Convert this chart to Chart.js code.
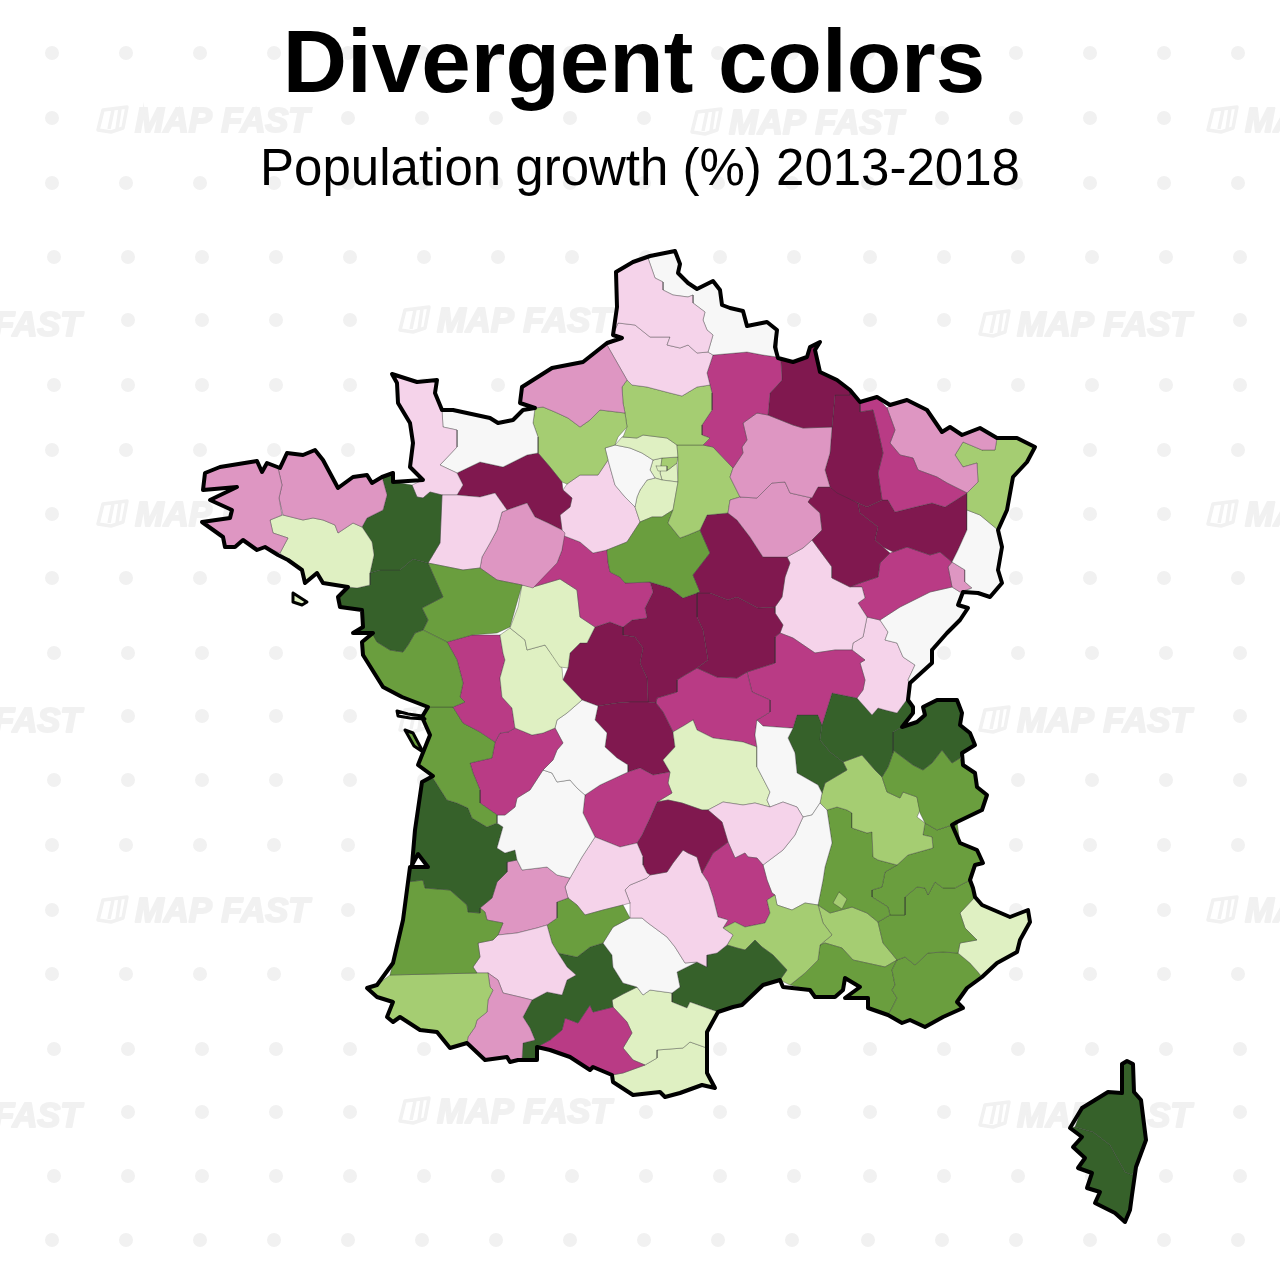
<!DOCTYPE html>
<html><head><meta charset="utf-8">
<style>html,body{margin:0;padding:0;background:#fff}canvas{display:block}</style>
<script src="https://cdn.jsdelivr.net/npm/chart.js@4"></script>
</head><body><canvas id="c" width="1280" height="1280"></canvas>
<script>
const titleText='Divergent colors';
const subtitleText='Population growth (%) 2013-2018';
const classColors=['#80184f','#b93b85','#de96c2','#f5d3ea','#f7f7f7','#dff0c2','#a5cd72','#6a9e3e','#36612a'];

const finistere=[[278,468],[267,463],[262,472],[257,461],[220,467],[205,473],[203,490],[237,487],[210,500],[232,510],[230,518],[202,522],[223,537],[225,547],[235,547],[243,540],[257,550],[265,547],[280,553],[288,538],[273,533],[270,520],[282,515],[279,498],[282,485]];
const cotesArmor=[[278,468],[287,453],[303,455],[315,450],[323,460],[338,488],[353,477],[367,475],[372,483],[382,477],[387,495],[383,510],[367,518],[362,527],[353,523],[338,533],[335,525],[323,520],[313,518],[303,520],[283,515],[279,498],[282,485]];
const morbihan=[[270,520],[283,515],[303,520],[313,518],[323,520],[335,525],[338,533],[353,523],[362,527],[372,542],[374,555],[370,573],[370,585],[357,588],[348,587],[323,583],[317,573],[305,583],[302,570],[288,560],[280,553],[288,538],[273,533]];
const illeVilaine=[[382,477],[393,473],[393,482],[412,485],[417,497],[423,498],[430,492],[442,495],[440,543],[428,563],[413,559],[400,570],[380,570],[370,573],[374,555],[372,542],[362,527],[367,518],[383,510],[387,495]];
const loireAtl=[[370,573],[380,570],[400,570],[413,559],[428,563],[440,590],[443,597],[422,608],[428,620],[423,630],[415,633],[408,645],[403,652],[390,650],[377,642],[373,635],[353,633],[363,627],[362,610],[340,607],[338,597],[348,587],[357,588],[370,585]];
const vendee=[[373,633],[377,642],[390,650],[403,652],[408,645],[415,633],[423,630],[447,642],[457,660],[463,683],[460,697],[465,702],[453,707],[440,707],[428,707],[402,697],[383,687],[363,655],[362,642]];
const maineLoire=[[428,563],[463,570],[480,568],[497,580],[522,585],[510,627],[497,633],[472,635],[447,642],[423,630],[428,620],[422,608],[443,597],[440,590]];
const mayenne=[[442,495],[457,495],[480,497],[495,493],[507,510],[502,512],[497,530],[490,543],[482,557],[480,568],[463,570],[428,563],[440,543]];
const sarthe=[[502,512],[507,510],[527,503],[535,517],[548,523],[562,530],[565,533],[562,550],[557,563],[533,588],[522,585],[497,580],[480,568],[482,557],[490,543],[497,530]];
const manche=[[392,374],[417,382],[437,380],[435,393],[442,410],[443,427],[457,430],[457,447],[440,465],[457,473],[463,485],[457,495],[442,495],[430,492],[423,498],[417,497],[412,485],[423,480],[420,477],[410,467],[413,443],[410,423],[398,403],[397,383]];
const calvados=[[442,410],[453,410],[490,418],[498,423],[513,420],[523,410],[535,408],[533,423],[538,437],[538,453],[527,455],[503,467],[480,462],[457,473],[440,465],[457,447],[457,430],[443,427]];
const orne=[[457,473],[480,462],[503,467],[527,455],[538,453],[550,467],[562,482],[563,490],[572,498],[570,507],[560,515],[562,530],[548,523],[535,517],[527,503],[507,510],[495,493],[480,497],[457,495],[463,485]];
const seineMar=[[520,403],[522,387],[552,368],[583,362],[607,345],[627,380],[622,387],[623,403],[625,413],[600,410],[590,420],[580,427],[568,418],[555,412],[543,407],[535,408]];
const eure=[[535,408],[543,407],[555,412],[568,418],[580,427],[590,420],[600,410],[625,413],[627,427],[618,437],[615,445],[605,448],[608,460],[598,475],[580,475],[567,484],[562,482],[550,467],[538,453],[538,437],[533,423]];
const pasCalais=[[616,272],[633,262],[648,258],[655,278],[663,282],[663,290],[673,295],[688,297],[693,295],[693,303],[705,312],[703,320],[707,330],[713,335],[708,352],[697,353],[688,345],[680,348],[667,345],[670,337],[650,337],[635,325],[618,323],[613,335],[617,307]];
const nord=[[648,258],[675,251],[680,264],[678,273],[688,283],[697,289],[713,281],[720,290],[722,305],[730,308],[743,311],[747,326],[767,322],[777,330],[777,357],[763,355],[747,352],[713,355],[708,352],[713,335],[707,330],[703,320],[705,312],[693,303],[693,295],[688,297],[673,295],[663,290],[663,282],[655,278]];
const somme=[[613,335],[618,323],[635,325],[650,337],[670,337],[667,345],[680,348],[688,345],[697,353],[708,352],[713,355],[707,373],[710,385],[697,387],[682,396],[670,393],[647,387],[632,385],[627,380],[607,345],[622,338]];
const oise=[[627,380],[632,385],[647,387],[670,393],[682,396],[697,387],[710,385],[712,393],[712,410],[702,425],[702,435],[710,438],[703,445],[677,445],[667,438],[643,435],[637,438],[623,437],[627,427],[625,413],[623,403],[622,387]];
const aisne=[[713,355],[747,352],[763,355],[777,357],[781,362],[782,380],[770,393],[768,415],[757,413],[743,423],[747,440],[742,447],[743,453],[733,468],[713,447],[703,445],[710,438],[702,435],[702,425],[712,410],[712,393],[710,385],[707,373]];
const ardennes=[[777,357],[793,362],[807,357],[810,347],[820,342],[815,350],[820,372],[837,380],[850,390],[850,395],[835,395],[832,427],[803,428],[793,425],[768,415],[770,393],[782,380],[781,362]];
const marne=[[757,413],[768,415],[793,425],[803,428],[832,427],[830,453],[825,470],[830,487],[818,487],[812,498],[790,493],[785,482],[772,483],[757,498],[740,497],[730,477],[733,468],[743,453],[742,447],[747,440],[743,423]];
const meuse=[[835,395],[850,395],[850,390],[860,402],[860,412],[873,410],[878,430],[883,453],[878,473],[882,500],[867,507],[858,503],[837,493],[830,487],[825,470],[830,453],[832,427]];
const meurtheMos=[[860,402],[877,397],[887,408],[895,430],[890,443],[900,455],[913,458],[918,470],[937,477],[947,483],[967,493],[945,507],[932,503],[915,507],[895,512],[888,500],[882,500],[878,473],[883,453],[878,430],[873,410],[860,412]];
const moselle=[[887,408],[890,405],[907,400],[927,410],[942,432],[950,427],[962,435],[980,428],[997,438],[995,450],[982,450],[963,442],[955,455],[963,467],[977,463],[978,482],[967,493],[947,483],[937,477],[918,470],[913,458],[900,455],[890,443],[895,430]];
const basRhin=[[982,450],[995,450],[997,438],[1017,438],[1035,447],[1027,462],[1013,477],[1007,510],[998,530],[980,515],[967,510],[967,493],[978,482],[977,463],[963,467],[955,455],[963,442]];
const hautRhin=[[980,515],[998,530],[1002,547],[998,570],[1002,583],[990,597],[978,593],[963,592],[972,588],[965,582],[965,570],[952,562],[958,550],[967,530],[967,510]];
const vosges=[[858,503],[867,507],[882,500],[888,500],[895,512],[915,507],[932,503],[945,507],[967,493],[967,510],[967,530],[958,550],[952,562],[940,552],[930,555],[907,547],[893,552],[883,547],[875,540],[878,527],[860,513]];
const hauteMarne=[[818,487],[830,487],[858,503],[860,513],[878,527],[875,540],[883,547],[890,553],[880,563],[878,577],[860,583],[850,587],[832,578],[832,567],[812,540],[822,530],[820,513],[808,502]];
const aube=[[740,497],[757,498],[772,483],[785,482],[790,493],[812,498],[808,502],[820,513],[822,530],[812,540],[803,548],[787,557],[763,557],[750,537],[737,520],[728,513],[730,500]];
const seineMarne=[[677,445],[703,445],[713,447],[733,468],[730,477],[740,497],[730,500],[728,513],[707,515],[700,530],[688,535],[680,538],[668,523],[673,510],[678,482],[678,457]];
const yonne=[[707,515],[728,513],[737,520],[750,537],[763,557],[787,557],[790,563],[785,577],[782,597],[775,607],[758,608],[737,597],[728,600],[710,593],[697,593],[700,592],[693,575],[710,553],[703,537],[700,530]];
const loiret=[[607,550],[627,542],[640,522],[652,517],[662,517],[673,510],[668,523],[680,538],[688,535],[700,530],[703,537],[710,553],[693,575],[700,592],[683,598],[670,588],[650,582],[625,583],[620,577],[610,572],[608,562]];
const valOise=[[622,437],[637,438],[643,435],[667,438],[677,445],[678,457],[662,458],[653,460],[642,453],[630,448],[615,445]];
const yvelines=[[605,448],[615,445],[630,448],[642,453],[653,460],[650,470],[655,478],[647,480],[640,490],[637,497],[635,507],[625,497],[615,485],[608,460]];
const seineSD=[[662,458],[678,457],[677,463],[668,470],[661,466]];
const hautsSeine=[[653,460],[662,458],[661,466],[660,473],[662,480],[655,478],[650,470]];
const paris=[[656,466],[667,466],[667,471],[658,471]];
const valMarne=[[661,466],[668,470],[677,463],[678,482],[662,480],[660,473]];
const essonne=[[640,490],[647,480],[655,478],[662,480],[678,482],[673,510],[662,517],[652,517],[640,522],[635,507],[637,497]];
const eureLoir=[[567,484],[580,475],[598,475],[608,460],[615,485],[625,497],[635,507],[640,522],[627,542],[607,550],[593,553],[580,542],[562,535],[562,530],[560,515],[570,507],[572,498],[563,490]];
const loirCher=[[562,535],[580,542],[593,553],[607,550],[608,562],[610,572],[620,577],[625,583],[650,582],[653,592],[645,608],[647,618],[632,620],[623,627],[610,622],[595,627],[580,617],[577,590],[560,579],[533,587],[548,570],[557,563],[562,550]];
const indreLoire=[[522,585],[533,587],[560,579],[577,590],[580,617],[595,627],[587,643],[580,643],[570,653],[568,668],[560,667],[545,645],[527,650],[525,640],[510,628],[518,607]];
const vienne=[[500,635],[510,628],[525,640],[527,650],[545,645],[562,668],[563,680],[582,700],[567,713],[557,720],[555,728],[543,733],[532,735],[515,728],[512,708],[502,697],[500,678],[505,660],[503,653]];
const deuxSevres=[[447,642],[472,635],[500,635],[503,653],[505,660],[500,678],[502,697],[512,708],[515,728],[508,732],[500,733],[495,742],[480,732],[463,723],[453,707],[465,702],[460,697],[463,683],[457,660]];
const charenteMar=[[428,707],[440,707],[453,707],[463,723],[480,732],[495,742],[492,758],[470,763],[473,773],[480,790],[480,803],[497,815],[497,823],[487,827],[472,818],[468,808],[457,803],[447,800],[433,778],[433,776],[418,765],[422,755],[430,735],[422,717]];
const charente=[[508,732],[515,728],[532,735],[543,733],[555,728],[563,743],[557,750],[553,760],[543,770],[530,790],[517,798],[515,807],[505,815],[497,815],[480,803],[480,790],[473,773],[470,763],[492,758],[495,742],[500,733]];
const hauteVienne=[[543,770],[553,760],[557,750],[563,743],[555,728],[557,720],[567,713],[582,700],[598,706],[595,720],[607,733],[605,747],[617,758],[628,765],[628,772],[600,785],[585,795],[577,788],[570,780],[557,782],[552,773]];
const dordogne=[[543,770],[552,773],[557,782],[570,780],[577,788],[585,795],[583,813],[595,837],[582,857],[570,878],[557,875],[547,867],[522,870],[517,860],[515,850],[505,853],[497,848],[503,827],[497,823],[497,815],[505,815],[515,807],[517,798],[530,790]];
const gironde=[[422,782],[433,778],[447,800],[457,803],[468,808],[472,818],[487,827],[497,823],[503,827],[497,848],[505,853],[515,850],[517,860],[507,862],[507,872],[497,882],[492,898],[480,908],[480,913],[468,912],[467,905],[450,890],[425,888],[423,880],[407,882],[410,867],[428,867],[418,854],[412,865],[415,830]];
const landes=[[407,882],[423,880],[425,888],[450,890],[467,905],[468,912],[480,913],[480,908],[485,912],[487,920],[503,923],[498,935],[493,940],[478,943],[480,957],[473,967],[477,973],[390,975],[393,963],[403,920]];
const pyrAtl=[[390,975],[477,973],[488,973],[490,987],[493,990],[488,1000],[487,1012],[477,1020],[475,1027],[468,1037],[467,1043],[450,1048],[437,1032],[420,1030],[400,1017],[393,1022],[387,1017],[393,1002],[377,997],[367,988],[377,985]];
const hautesPyr=[[488,973],[498,980],[503,993],[520,997],[532,1000],[523,1017],[530,1028],[535,1040],[523,1043],[522,1060],[518,1060],[510,1062],[507,1057],[485,1060],[467,1043],[468,1037],[475,1027],[477,1020],[487,1012],[488,1000],[493,990],[490,987]];
const gers=[[478,943],[493,940],[498,935],[517,933],[537,928],[547,925],[552,943],[558,953],[567,967],[576,975],[567,980],[562,995],[547,992],[532,1000],[520,997],[503,993],[498,980],[488,973],[477,973],[473,967],[480,957]];
const lotGaronne=[[507,862],[517,860],[522,870],[547,867],[557,875],[570,878],[565,887],[568,898],[557,902],[557,918],[547,925],[537,928],[517,933],[498,935],[503,923],[487,920],[485,912],[480,908],[492,898],[497,882],[507,872]];
const tarnGaronne=[[568,898],[577,905],[585,915],[603,910],[623,905],[630,918],[613,927],[603,943],[590,947],[577,957],[558,953],[552,943],[547,925],[557,918],[557,902]];
const lot=[[565,887],[570,878],[582,857],[595,837],[620,847],[637,843],[643,857],[643,865],[647,873],[650,875],[647,878],[630,885],[625,890],[630,903],[623,905],[603,910],[585,915],[577,905],[568,898]];
const correze=[[585,795],[600,785],[628,772],[640,768],[653,775],[670,772],[668,783],[672,793],[657,802],[650,818],[642,835],[637,843],[620,847],[595,837],[583,813]];
const cantal=[[657,802],[668,800],[682,803],[702,810],[708,810],[722,822],[728,842],[720,848],[713,853],[702,873],[697,857],[688,853],[683,850],[673,863],[667,872],[650,875],[647,873],[643,865],[643,857],[637,843],[642,835],[650,818]];
const aveyron=[[630,903],[625,890],[630,885],[647,878],[650,875],[667,872],[673,863],[683,850],[688,853],[697,857],[702,873],[708,882],[713,897],[718,917],[728,920],[723,928],[733,935],[727,945],[717,953],[707,955],[707,967],[697,962],[685,963],[675,947],[667,937],[648,923],[642,918],[630,918]];
const tarn=[[613,927],[630,918],[642,918],[648,923],[667,937],[675,947],[685,963],[697,962],[677,972],[680,987],[672,993],[650,990],[643,995],[637,987],[623,983],[613,967],[612,955],[603,943]];
const hauteGaronne=[[603,943],[612,955],[613,967],[623,983],[637,987],[623,994],[612,1000],[613,1007],[593,1012],[590,1005],[578,1023],[565,1018],[562,1030],[550,1040],[537,1047],[537,1060],[522,1060],[523,1043],[535,1040],[530,1028],[523,1017],[532,1000],[547,992],[562,995],[567,980],[576,975],[567,967],[558,953],[577,957],[590,947]];
const ariege=[[550,1040],[562,1030],[565,1018],[578,1023],[590,1005],[593,1012],[613,1007],[627,1022],[632,1033],[623,1048],[633,1060],[645,1065],[623,1073],[612,1075],[593,1067],[590,1070],[570,1057],[550,1050],[537,1047]];
const aude=[[613,1007],[612,1000],[623,994],[637,987],[643,995],[650,990],[672,993],[672,1002],[687,1008],[690,1002],[718,1012],[707,1032],[707,1048],[690,1042],[683,1048],[657,1050],[657,1058],[645,1065],[633,1060],[623,1048],[632,1033],[627,1022]];
const pyrOr=[[707,1048],[707,1073],[715,1088],[702,1085],[680,1093],[665,1097],[660,1092],[633,1095],[613,1082],[612,1075],[623,1073],[645,1065],[657,1058],[657,1050],[683,1048],[690,1042]];
const herault=[[680,987],[677,972],[697,962],[707,967],[707,955],[717,953],[727,945],[737,948],[745,950],[755,940],[762,947],[773,955],[787,970],[780,980],[763,985],[742,1005],[733,1007],[718,1012],[690,1002],[687,1008],[672,1002],[672,993]];
const gard=[[723,928],[735,922],[745,927],[765,923],[770,913],[767,900],[775,895],[777,905],[792,910],[805,903],[818,905],[823,923],[832,935],[820,945],[818,960],[805,973],[790,985],[780,980],[787,970],[773,955],[762,947],[755,940],[745,950],[737,948],[727,945],[733,935]];
const lozere=[[702,873],[713,853],[720,848],[728,842],[735,858],[745,853],[748,857],[757,858],[763,865],[767,880],[772,893],[775,895],[767,900],[770,913],[765,923],[745,927],[735,922],[723,928],[728,920],[718,917],[713,897],[708,882]];
const hauteLoire=[[708,810],[723,802],[743,805],[755,803],[770,807],[783,802],[797,807],[803,817],[798,828],[795,835],[783,850],[763,865],[757,858],[748,857],[745,853],[735,858],[728,842],[722,822]];
const ardeche=[[763,865],[783,850],[795,835],[798,828],[803,817],[812,815],[820,803],[827,810],[832,843],[825,867],[823,880],[818,905],[805,903],[792,910],[777,905],[775,895],[772,893],[767,880]];
const loireDept=[[757,720],[763,726],[790,728],[793,728],[788,738],[795,753],[797,773],[818,785],[822,793],[820,803],[812,815],[803,817],[797,807],[783,802],[770,807],[767,800],[770,792],[757,767],[757,747],[755,735]];
const puyDome=[[693,720],[697,730],[713,738],[743,742],[757,747],[757,767],[770,792],[767,800],[770,807],[755,803],[743,805],[723,802],[708,810],[702,810],[682,803],[668,800],[657,802],[672,793],[668,783],[670,772],[663,760],[675,747],[673,732],[685,725]];
const creuse=[[598,706],[617,703],[630,702],[648,702],[656,703],[663,712],[673,732],[675,747],[663,760],[670,772],[653,775],[640,768],[628,772],[628,765],[617,758],[605,747],[607,733],[595,720]];
const indre=[[568,668],[570,653],[580,643],[587,643],[595,627],[610,622],[623,627],[623,635],[635,637],[643,648],[640,663],[647,678],[648,702],[630,702],[617,703],[598,706],[582,700],[563,680]];
const cher=[[623,627],[632,620],[647,618],[645,608],[653,592],[650,582],[670,588],[683,598],[697,593],[697,617],[703,630],[708,660],[697,668],[685,675],[677,680],[677,692],[657,698],[656,703],[648,702],[647,678],[640,663],[643,648],[635,637],[623,635]];
const nievre=[[697,593],[710,593],[728,600],[737,597],[758,608],[775,607],[775,613],[783,625],[780,633],[775,637],[775,663],[747,672],[737,678],[717,677],[697,668],[708,660],[703,630],[697,617]];
const allier=[[656,703],[657,698],[677,692],[677,680],[685,675],[697,668],[717,677],[737,678],[747,672],[752,692],[770,700],[770,712],[757,720],[755,735],[757,747],[743,742],[713,738],[697,730],[693,720],[685,725],[673,732],[663,712]];
const saoneLoire=[[775,637],[780,633],[793,638],[815,653],[835,650],[852,650],[865,660],[860,663],[865,680],[863,690],[857,698],[832,693],[822,725],[818,715],[797,715],[793,728],[790,728],[763,726],[757,720],[770,712],[770,700],[752,692],[747,672],[775,663]];
const coteOr=[[787,557],[803,548],[812,540],[832,567],[832,578],[850,587],[862,587],[865,598],[858,603],[867,617],[863,637],[853,643],[852,650],[835,650],[815,653],[793,638],[780,633],[783,625],[775,613],[775,607],[782,597],[785,577],[790,563]];
const hauteSaone=[[860,583],[878,577],[880,563],[890,553],[893,552],[907,547],[930,555],[940,552],[952,562],[948,567],[952,587],[930,592],[920,597],[900,607],[880,620],[867,617],[858,603],[865,598],[862,587],[850,587]];
const belfort=[[952,562],[965,570],[965,582],[972,588],[960,592],[952,587],[948,567]];
const doubs=[[880,620],[900,607],[920,597],[930,592],[952,587],[960,592],[963,592],[958,605],[968,608],[960,620],[947,633],[932,650],[932,663],[910,683],[908,680],[915,665],[903,657],[897,643],[885,640],[888,632]];
const jura=[[867,617],[880,620],[888,632],[885,640],[897,643],[903,657],[915,665],[908,680],[910,685],[908,698],[897,713],[885,710],[878,708],[872,715],[857,698],[863,690],[865,680],[860,663],[865,660],[852,650],[853,643],[863,637]];
const ain=[[832,693],[857,698],[872,715],[878,708],[885,710],[897,713],[908,698],[910,703],[913,713],[902,727],[893,732],[893,753],[888,767],[882,777],[875,770],[862,755],[843,762],[830,752],[820,740],[822,725]];
const rhone=[[797,715],[818,715],[822,725],[820,740],[830,752],[843,762],[847,770],[825,783],[822,793],[818,785],[797,773],[795,753],[788,738],[793,728]];
const hauteSavoie=[[902,727],[917,722],[925,715],[923,707],[937,700],[957,700],[962,713],[960,725],[970,733],[975,745],[962,753],[960,758],[952,763],[942,750],[932,763],[923,770],[913,765],[893,750],[893,732]];
const savoie=[[893,750],[913,765],[923,770],[932,763],[942,750],[952,763],[960,758],[963,765],[975,773],[977,787],[987,795],[982,810],[957,822],[952,825],[937,830],[925,823],[920,813],[918,803],[917,797],[903,792],[900,798],[887,792],[882,777],[888,767],[893,753]];
const isere=[[822,793],[825,783],[847,770],[843,762],[862,755],[875,770],[882,777],[887,792],[900,798],[903,792],[917,797],[920,810],[917,817],[925,823],[923,835],[932,837],[933,848],[908,855],[897,865],[878,860],[873,857],[872,832],[867,833],[852,828],[852,813],[847,810],[837,807],[827,810],[820,803]];
const drome=[[827,810],[837,807],[847,810],[852,813],[852,828],[867,833],[872,832],[873,857],[878,860],[897,865],[885,872],[882,887],[872,890],[872,897],[888,907],[890,915],[878,922],[867,913],[852,907],[830,913],[818,905],[823,880],[825,867],[832,843]];
const valreas=[[839,892],[847,899],[842,909],[833,903]];
const hautesAlpes=[[897,865],[908,855],[933,848],[932,837],[923,835],[925,823],[937,830],[952,825],[957,822],[960,843],[977,850],[983,863],[975,865],[970,880],[955,888],[943,888],[935,882],[928,895],[925,888],[917,887],[905,897],[905,915],[890,915],[888,907],[872,897],[872,890],[882,887],[885,872]];
const alpesHP=[[878,922],[890,915],[905,915],[905,897],[917,887],[925,888],[928,895],[935,882],[943,888],[955,888],[970,880],[975,897],[960,913],[965,928],[977,940],[960,943],[958,953],[943,952],[928,953],[915,965],[905,957],[897,960],[893,955],[883,943]];
const alpesMar=[[975,897],[982,905],[1010,917],[1028,910],[1030,922],[1020,940],[1017,952],[997,963],[982,977],[978,972],[970,963],[958,953],[960,943],[977,940],[965,928],[960,913]];
const varDept=[[897,960],[905,957],[915,965],[928,953],[943,952],[958,953],[970,963],[978,972],[982,977],[967,988],[957,1002],[963,1008],[943,1017],[925,1027],[910,1020],[902,1023],[888,1015],[892,1008],[897,998],[892,990],[895,985],[892,970]];
const bouchesRhone=[[820,945],[825,943],[842,948],[853,960],[885,967],[897,960],[892,970],[895,985],[892,990],[897,998],[892,1008],[888,1015],[868,1008],[868,998],[845,998],[860,987],[845,978],[843,990],[835,997],[815,997],[810,990],[790,985],[805,973],[818,960]];
const vaucluse=[[818,905],[830,913],[852,907],[867,913],[878,922],[883,943],[893,955],[897,960],[885,967],[853,960],[842,948],[825,943],[820,945],[832,935],[823,923]];
const hauteCorse=[[1122,1064],[1127,1061],[1133,1064],[1134,1092],[1141,1100],[1146,1140],[1136,1167],[1132,1175],[1125,1172],[1110,1145],[1093,1132],[1075,1127],[1082,1108],[1108,1092],[1122,1093]];
const corseSud=[[1075,1127],[1093,1132],[1110,1145],[1125,1172],[1132,1175],[1136,1167],[1132,1195],[1130,1210],[1125,1222],[1115,1213],[1095,1203],[1100,1192],[1087,1188],[1092,1173],[1078,1168],[1085,1158],[1073,1147],[1082,1137],[1070,1128]];
const corsicaEdge=[[1122,1064],[1127,1061],[1133,1064],[1134,1092],[1141,1100],[1146,1140],[1136,1167],[1132,1195],[1130,1210],[1125,1222],[1115,1213],[1095,1203],[1100,1192],[1087,1188],[1092,1173],[1078,1168],[1085,1158],[1073,1147],[1082,1137],[1070,1128],[1082,1108],[1108,1092],[1122,1093]];
const oleron=[[405,730],[413,733],[423,752],[414,746]];
const noirmoutier=[[293,593],[307,602],[302,605],[293,602]];
const ileRe=[[397,711],[408,714],[422,716],[425,719],[410,718],[398,716]];
const coastline=[[616,272],[633,262],[650,256],[675,251],[680,264],[678,273],[688,283],[697,289],[713,281],[720,290],[722,305],[730,308],[743,311],[747,326],[767,322],[777,330],[775,347],[778,358],[793,362],[807,357],[810,347],[820,342],[815,350],[820,372],[837,380],[850,390],[860,402],[877,397],[890,405],[907,400],[927,410],[942,432],[950,427],[962,435],[980,428],[997,438],[1017,438],[1035,447],[1027,462],[1013,477],[1007,510],[998,530],[1002,547],[998,570],[1002,583],[990,597],[978,593],[963,592],[958,605],[968,608],[960,620],[947,633],[932,650],[932,663],[910,683],[908,700],[913,707],[913,713],[902,727],[917,722],[925,715],[923,707],[937,700],[957,700],[962,713],[960,725],[970,733],[975,745],[962,753],[963,765],[975,773],[977,787],[987,795],[982,810],[957,822],[952,825],[960,843],[977,850],[983,863],[975,865],[970,880],[973,888],[975,897],[982,905],[1010,917],[1028,910],[1030,922],[1020,940],[1017,952],[997,963],[982,977],[967,988],[957,1002],[963,1008],[943,1017],[925,1027],[910,1020],[902,1023],[888,1015],[868,1008],[868,998],[845,998],[860,987],[845,978],[843,990],[835,997],[815,997],[810,990],[783,987],[780,980],[763,985],[742,1005],[733,1007],[718,1012],[707,1032],[707,1073],[715,1088],[702,1085],[680,1093],[665,1097],[660,1092],[633,1095],[613,1082],[612,1075],[593,1067],[590,1070],[570,1057],[550,1050],[537,1047],[537,1060],[518,1060],[510,1062],[507,1057],[485,1060],[467,1043],[450,1048],[437,1032],[420,1030],[400,1017],[393,1022],[387,1017],[393,1002],[377,997],[367,988],[377,985],[393,963],[403,920],[410,867],[428,867],[418,854],[412,865],[415,830],[422,782],[433,776],[418,765],[422,755],[430,735],[422,717],[428,707],[402,697],[383,687],[363,655],[362,642],[373,633],[353,633],[363,627],[362,610],[340,607],[338,597],[348,587],[323,583],[317,573],[305,583],[302,570],[288,560],[278,555],[265,547],[257,550],[243,540],[235,547],[225,547],[223,537],[202,522],[230,518],[232,510],[210,500],[237,487],[203,490],[205,473],[220,467],[257,461],[262,472],[267,463],[280,468],[287,453],[303,455],[315,450],[323,460],[338,488],[353,477],[367,475],[372,483],[382,477],[393,473],[393,482],[423,480],[420,477],[410,467],[413,443],[410,423],[398,403],[397,383],[392,374],[417,382],[437,380],[435,393],[442,410],[453,410],[490,418],[498,423],[513,420],[523,410],[535,408],[520,403],[522,387],[552,368],[583,362],[607,343],[622,338],[613,335],[617,307],[616,272]];

// [name, outline, colour class 1..9 (declining → growing)]; earlier rows are painted on top
const departments=[
['Paris',paris,6],['Enclave de Valréas',valreas,7],
['Finistère',finistere,3],['Côtes-d’Armor',cotesArmor,3],['Morbihan',morbihan,6],['Ille-et-Vilaine',illeVilaine,9],['Loire-Atlantique',loireAtl,9],['Vendée',vendee,8],['Maine-et-Loire',maineLoire,8],['Mayenne',mayenne,4],['Sarthe',sarthe,3],['Manche',manche,4],['Calvados',calvados,5],['Orne',orne,1],['Seine-Maritime',seineMar,3],['Eure',eure,7],['Pas-de-Calais',pasCalais,4],['Nord',nord,5],['Somme',somme,4],['Oise',oise,7],['Aisne',aisne,2],['Ardennes',ardennes,1],['Marne',marne,3],['Meuse',meuse,1],['Meurthe-et-Moselle',meurtheMos,2],['Moselle',moselle,3],['Bas-Rhin',basRhin,7],['Haut-Rhin',hautRhin,5],['Vosges',vosges,1],['Haute-Marne',hauteMarne,1],['Aube',aube,3],['Seine-et-Marne',seineMarne,7],['Yonne',yonne,1],['Loiret',loiret,8],['Val-d’Oise',valOise,6],['Yvelines',yvelines,5],['Essonne',essonne,6],['Seine-Saint-Denis',seineSD,7],['Hauts-de-Seine',hautsSeine,6],['Val-de-Marne',valMarne,6],['Eure-et-Loir',eureLoir,4],['Loir-et-Cher',loirCher,2],['Indre-et-Loire',indreLoire,6],['Vienne',vienne,6],['Deux-Sèvres',deuxSevres,2],['Charente-Maritime',charenteMar,8],['Charente',charente,2],['Haute-Vienne',hauteVienne,5],['Dordogne',dordogne,5],['Gironde',gironde,9],['Landes',landes,8],['Pyrénées-Atlantiques',pyrAtl,7],['Hautes-Pyrénées',hautesPyr,3],['Gers',gers,4],['Lot-et-Garonne',lotGaronne,3],['Tarn-et-Garonne',tarnGaronne,8],['Lot',lot,4],['Corrèze',correze,2],['Cantal',cantal,1],['Aveyron',aveyron,4],['Tarn',tarn,5],['Haute-Garonne',hauteGaronne,9],['Ariège',ariege,2],['Aude',aude,6],['Pyrénées-Orientales',pyrOr,6],['Hérault',herault,9],['Gard',gard,7],['Lozère',lozere,2],['Haute-Loire',hauteLoire,4],['Ardèche',ardeche,5],['Loire',loireDept,5],['Puy-de-Dôme',puyDome,6],['Creuse',creuse,1],['Indre',indre,1],['Cher',cher,1],['Nièvre',nievre,1],['Allier',allier,2],['Saône-et-Loire',saoneLoire,2],['Côte-d’Or',coteOr,4],['Haute-Saône',hauteSaone,2],['Territoire de Belfort',belfort,3],['Doubs',doubs,5],['Jura',jura,4],['Ain',ain,9],['Rhône',rhone,9],['Haute-Savoie',hauteSavoie,9],['Savoie',savoie,8],['Isère',isere,7],['Drôme',drome,8],['Hautes-Alpes',hautesAlpes,8],['Alpes-de-Haute-Provence',alpesHP,8],['Alpes-Maritimes',alpesMar,6],['Var',varDept,8],['Bouches-du-Rhône',bouchesRhone,8],['Vaucluse',vaucluse,7],['Haute-Corse',hauteCorse,9],['Corse-du-Sud',corseSud,9],['Île d’Oléron',oleron,8],['Noirmoutier',noirmoutier,6]
];

// Watermark pattern behind the map
const dotCols=[52,126,200,274,348,422,496,570,644,718,792,868,942,1016,1090,1164,1238];
const dotRows=[[53,0],[118,0],[183,0],[257,2],[320,2],[385,2],[450,0],[514,0],[578,0],[653,2],[716,2],[780,2],[845,0],[910,0],[974,0],[1049,2],[1112,2],[1176,2],[1240,0]];
const hiddenFirstKind=[126,200,274,718,792,868,1238];
const hiddenSecondKind=[52,422,496,570,1016,1090,1164];
const rowsFirstKind=[118,514,910];
const rowsSecondKind=[320,716,1112];
const markSpots=[[98,132],[692,134],[1208,132],[-130,336],[400,332],[980,336],[98,526],[1208,526],[-130,732],[400,732],[980,732],[98,922],[1208,922],[-130,1127],[400,1123],[980,1127]];

const closed=p=>p.concat([p[0]]).map(([x,y])=>({x,y}));
const lineStyle={showLine:true,pointRadius:0,pointHoverRadius:0,tension:0,borderJoinStyle:'round',borderCapStyle:'round'};
const datasets=[
 {...lineStyle,label:'Coastline',data:closed(coastline),borderColor:'#000',borderWidth:4,fill:false},
 {...lineStyle,label:'Île de Ré',data:closed(ileRe),borderColor:'#000',borderWidth:3,fill:false},
 {...lineStyle,label:'Île d’Oléron outline',data:closed(oleron),borderColor:'#000',borderWidth:3,fill:false},
 {...lineStyle,label:'Noirmoutier outline',data:closed(noirmoutier),borderColor:'#000',borderWidth:3,fill:false},
 {...lineStyle,label:'Corsica outline',data:closed(corsicaEdge),borderColor:'#000',borderWidth:4,fill:false}
];
departments.forEach(([name,shape,cls])=>datasets.push({...lineStyle,label:name,data:closed(shape),fill:'shape',backgroundColor:classColors[cls-1],borderColor:'rgba(50,50,50,0.36)',borderWidth:1}));

const watermark={id:'watermark',beforeDraw(chart){
 const c=chart.ctx;c.save();c.fillStyle='#f1f1f1';
 dotRows.forEach(([y,dx])=>dotCols.forEach(x=>{
  if(rowsFirstKind.includes(y)&&hiddenFirstKind.includes(x))return;
  if(rowsSecondKind.includes(y)&&hiddenSecondKind.includes(x))return;
  c.beginPath();c.arc(x+dx,y,7,0,Math.PI*2);c.fill();}));
 c.textBaseline='alphabetic';c.textAlign='left';
 c.font='italic 900 34.5px "Liberation Sans"';c.strokeStyle='#f1f1f1';
 markSpots.forEach(([x,y])=>{
  c.lineWidth=2;c.fillText('MAP FAST',x+37,y);c.strokeText('MAP FAST',x+37,y);
  c.lineWidth=3.5;c.lineJoin='round';c.beginPath();c.moveTo(x,y-2);c.lineTo(x+5,y-22);c.lineTo(x+29,y-25);c.lineTo(x+25,y-4);c.lineTo(x+13,y);c.closePath();
  c.moveTo(x+11,y-3);c.lineTo(x+15,y-22);c.moveTo(x+19,y-3);c.lineTo(x+22,y-23);c.stroke();
 });
 c.restore();
},afterLayout(chart){ if(chart.titleBlock){chart.titleBlock.left-=6;chart.titleBlock.right-=6;} }};

new Chart(document.getElementById('c'),{type:'scatter',data:{datasets},plugins:[watermark],options:{
 responsive:false,animation:false,devicePixelRatio:1,layout:{padding:0},events:[],
 plugins:{legend:{display:false},tooltip:{enabled:false},
  title:{display:true,text:titleText,color:'#000',font:{family:'"Liberation Sans"',size:89,weight:'bold',lineHeight:1.2},padding:{top:14,bottom:0}},
  subtitle:{display:true,text:subtitleText,color:'#000',font:{family:'"Liberation Sans"',size:51,weight:'normal',lineHeight:1.2},padding:{top:19.4,bottom:0.6}}},
 scales:{x:{type:'linear',display:false,min:0,max:1280},y:{type:'linear',display:false,reverse:true,min:202,max:1280}}
}});
</script></body></html>
